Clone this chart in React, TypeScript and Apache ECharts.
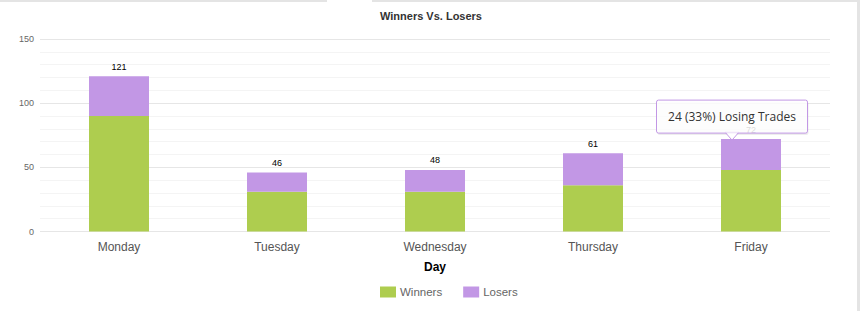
import React, { useEffect, useRef } from "react";
import * as echarts from "echarts";

const days = ["Monday", "Tuesday", "Wednesday", "Thursday", "Friday"];
const winners = [90, 31, 31, 36, 48];
const losers = [31, 15, 17, 25, 24];
const yTicks = { min: 0, max: 150, interval: 50 };

const GREEN = "#aecd4f";
const PURPLE = "#c297e5";
const FONT = "'Liberation Sans', Arial, sans-serif";

export default function App() {
  const ref = useRef<HTMLDivElement>(null);

  useEffect(() => {
    if (!ref.current) return;
    const chart = echarts.init(ref.current, null, { renderer: "svg" });
    const totals = days.map((_, i) => winners[i] + losers[i]);

    chart.setOption({
      animation: false,
      backgroundColor: "#ffffff",
      textStyle: { fontFamily: FONT },
      title: {
        text: "Winners Vs. Losers",
        left: "center",
        top: 5,
        textStyle: { fontSize: 11, fontWeight: "bold", color: "#333", fontFamily: FONT },
      },
      legend: {
        bottom: 8,
        left: 375,
        itemWidth: 16,
        itemHeight: 11,
        itemGap: 21,
        icon: "rect",
        textStyle: { fontSize: 11.5, color: "#666", fontFamily: FONT, padding: [0, 0, 0, -1] },
        data: ["Winners", "Losers"],
      },
      grid: { left: 40, right: 32, top: 39, bottom: 79.5, containLabel: false },
      xAxis: {
        type: "category",
        data: days,
        name: "Day",
        nameLocation: "middle",
        nameGap: 29,
        nameTextStyle: { fontSize: 12, fontWeight: "bold", color: "#000", fontFamily: FONT },
        axisLine: { show: false },
        axisTick: { show: false },
        axisLabel: { fontSize: 12, color: "#555", margin: 9, fontFamily: FONT },
      },
      yAxis: {
        type: "value",
        min: yTicks.min,
        max: yTicks.max,
        interval: yTicks.interval,
        axisLine: { show: false },
        axisTick: { show: false },
        axisLabel: { fontSize: 9, color: "#666", margin: 6, fontFamily: FONT },
        splitLine: { lineStyle: { color: "#e6e6e6", width: 1 } },
        minorTick: { show: false, splitNumber: 5 },
        minorSplitLine: { show: true, lineStyle: { color: "#f4f4f4", width: 1 } },
      },
      series: [
        {
          name: "Winners",
          type: "bar",
          stack: "total",
          barWidth: 60,
          data: winners,
          itemStyle: { color: GREEN },
        },
        {
          name: "Losers",
          type: "bar",
          stack: "total",
          barWidth: 60,
          data: losers,
          itemStyle: { color: PURPLE },
          label: {
            show: true,
            position: "top",
            distance: 5,
            fontSize: 9,
            fontWeight: "normal",
            color: "#000",
            fontFamily: FONT,
            formatter: (p: any) => String(totals[p.dataIndex]),
          },
        },
      ],
    });

    // Hover callout over Friday's losers segment
    const fi = days.length - 1;
    const [bx, by] = chart.convertToPixel({ gridIndex: 0 }, [fi, totals[fi]]) as number[];
    const pct = Math.round((losers[fi] / totals[fi]) * 100);
    const tipX = bx - 19;
    const tipY = by + 1;
    const boxW = 151;
    const boxH = 33;
    const boxL = tipX - boxW / 2;
    const boxT = tipY - 7 - boxH;
    const Z = 200;

    chart.setOption({
      graphic: [
        // page chrome: tab strip on top, panel border at right
        { type: "rect", shape: { x: 0, y: 0, width: 862, height: 2 }, style: { fill: "#e4e4e4" }, z: 100 },
        { type: "rect", shape: { x: 327, y: 0, width: 45, height: 3 }, style: { fill: "#ffffff" }, z: 101 },
        { type: "rect", shape: { x: 857, y: 0, width: 5, height: 311 }, style: { fill: "#e4e4e4" }, z: 100 },
        { type: "rect", shape: { x: 860, y: 0, width: 2, height: 311 }, style: { fill: "#ffffff" }, z: 101 },
        {
          type: "rect",
          z: Z,
          shape: { x: boxL + 1, y: boxT + 2, width: boxW, height: boxH, r: 2 },
          style: { fill: "rgba(0,0,0,0.07)" },
        },
        {
          type: "polygon",
          z: Z + 1,
          shape: { points: [[tipX - 7, boxT + boxH - 1], [tipX + 7, boxT + boxH - 1], [tipX, tipY]] },
          style: { fill: "rgba(255,255,255,0.85)", stroke: PURPLE, lineWidth: 1 },
        },
        {
          type: "rect",
          z: Z + 2,
          shape: { x: boxL, y: boxT, width: boxW, height: boxH, r: 2 },
          style: { fill: "rgba(255,255,255,0.85)", stroke: PURPLE, lineWidth: 1 },
        },
        {
          type: "polygon",
          z: Z + 3,
          shape: { points: [[tipX - 6, boxT + boxH - 0.5], [tipX + 6, boxT + boxH - 0.5], [tipX, tipY - 1.5]] },
          style: { fill: "rgba(255,255,255,0.85)" },
        },
        {
          type: "text",
          z: Z + 4,
          x: boxL + boxW / 2,
          y: boxT + boxH / 2,
          style: {
            text: `${losers[fi]} (${pct}%) Losing Trades`,
            fill: "#333",
            fontSize: 12,
            fontFamily: "'Open Sans', 'Liberation Sans', sans-serif",
            align: "center",
            verticalAlign: "middle",
          },
        },
      ],
    });

    return () => chart.dispose();
  }, []);

  return (
    <div
      ref={ref}
      style={{ position: "absolute", left: 0, top: 0, width: 862, height: 311 }}
    />
  );
}
